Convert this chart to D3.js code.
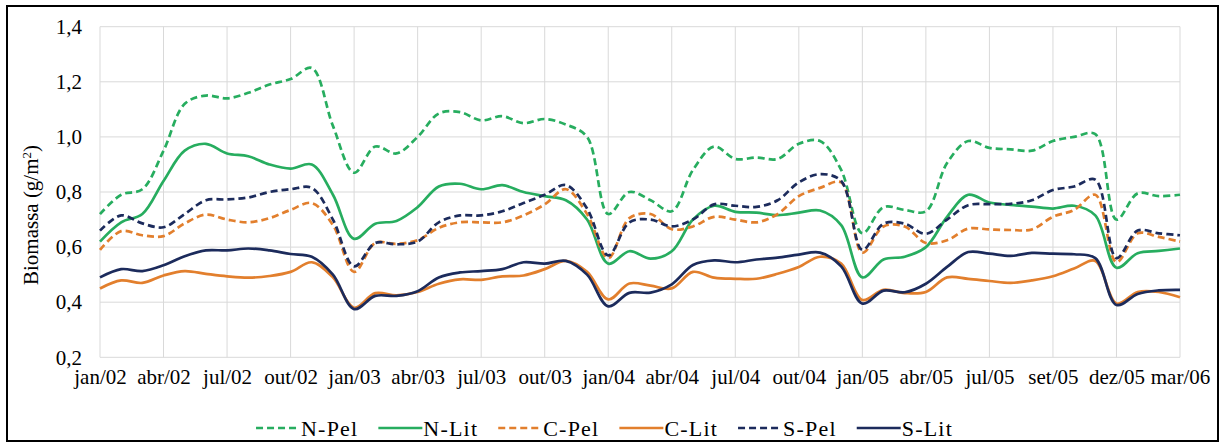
<!DOCTYPE html>
<html>
<head>
<meta charset="utf-8">
<script src="https://cdn.jsdelivr.net/npm/d3@7"></script>
<style>
  body { margin: 0; background: #fff; }
  svg text { font-family: "Liberation Serif", "DejaVu Serif", "Times New Roman", serif; fill: #000; }
</style>
</head>
<body>
<div id="grafico"></div>
<script>
// categorias (uma amostra por mes; ago/05 tem duas coletas)
const meses = [
  'jan/02','fev/02','mar/02','abr/02','mai/02','jun/02','jul/02','ago/02','set/02','out/02','nov/02','dez/02',
  'jan/03','fev/03','mar/03','abr/03','mai/03','jun/03','jul/03','ago/03','set/03','out/03','nov/03','dez/03',
  'jan/04','fev/04','mar/04','abr/04','mai/04','jun/04','jul/04','ago/04','set/04','out/04','nov/04','dez/04',
  'jan/05','fev/05','mar/05','abr/05','mai/05','jun/05','jul/05','ago/05','ago/05','set/05','out/05','nov/05',
  'dez/05','jan/06','fev/06','mar/06'
];

const nPel = [0.72,0.79,0.81,0.95,1.12,1.15,1.14,1.16,1.19,1.21,1.25,1.04,
  0.87,0.965,0.94,1.00,1.085,1.09,1.06,1.075,1.05,1.065,1.045,1.00,
  0.72,0.80,0.77,0.73,0.88,0.965,0.92,0.925,0.92,0.975,0.985,0.88,
  0.65,0.745,0.735,0.73,0.905,0.985,0.96,0.955,0.95,0.985,1.00,1.01,
  0.70,0.795,0.785,0.79];
const nLit = [0.62,0.69,0.72,0.84,0.95,0.975,0.94,0.93,0.90,0.885,0.90,0.79,
  0.63,0.685,0.695,0.745,0.82,0.83,0.81,0.825,0.80,0.785,0.77,0.70,
  0.54,0.585,0.558,0.585,0.70,0.75,0.728,0.725,0.716,0.725,0.733,0.68,
  0.49,0.555,0.565,0.60,0.71,0.79,0.762,0.753,0.747,0.74,0.75,0.715,
  0.525,0.578,0.586,0.595];
const cPel = [0.59,0.658,0.643,0.64,0.686,0.718,0.70,0.69,0.705,0.735,0.76,0.68,
  0.51,0.615,0.612,0.625,0.67,0.69,0.69,0.69,0.715,0.755,0.81,0.72,
  0.56,0.705,0.72,0.665,0.675,0.71,0.70,0.69,0.72,0.785,0.815,0.835,
  0.58,0.675,0.675,0.615,0.625,0.667,0.664,0.662,0.664,0.71,0.735,0.79,
  0.545,0.65,0.637,0.62];
const cLit = [0.45,0.479,0.47,0.497,0.513,0.503,0.494,0.489,0.495,0.51,0.545,0.49,
  0.38,0.433,0.425,0.437,0.467,0.483,0.481,0.494,0.497,0.52,0.55,0.51,
  0.41,0.468,0.46,0.45,0.51,0.489,0.485,0.485,0.503,0.528,0.565,0.54,
  0.408,0.445,0.433,0.437,0.49,0.485,0.477,0.47,0.479,0.494,0.522,0.55,
  0.395,0.437,0.437,0.418];
const sPel = [0.66,0.715,0.686,0.672,0.72,0.77,0.773,0.78,0.80,0.81,0.815,0.70,
  0.53,0.615,0.61,0.62,0.69,0.715,0.715,0.73,0.76,0.79,0.825,0.74,
  0.57,0.69,0.70,0.675,0.70,0.755,0.75,0.746,0.77,0.835,0.865,0.84,
  0.59,0.685,0.685,0.648,0.70,0.752,0.756,0.757,0.77,0.807,0.82,0.845,
  0.56,0.66,0.65,0.643];
const sLit = [0.49,0.52,0.513,0.534,0.567,0.588,0.588,0.595,0.588,0.575,0.565,0.50,
  0.375,0.423,0.423,0.44,0.49,0.508,0.513,0.52,0.545,0.54,0.55,0.50,
  0.385,0.434,0.435,0.465,0.535,0.552,0.545,0.555,0.562,0.573,0.58,0.53,
  0.395,0.442,0.436,0.467,0.528,0.582,0.576,0.568,0.579,0.576,0.574,0.56,
  0.39,0.43,0.443,0.445];

const ticksY = [0.2, 0.4, 0.6, 0.8, 1.0, 1.2, 1.4];

const verde = '#27ad5f', laranja = '#e27f2d', azul = '#1c2b5c';
const series = [
  { nome: 'N-Pel', valores: nPel, cor: verde, tracejado: true },
  { nome: 'N-Lit', valores: nLit, cor: verde, tracejado: false },
  { nome: 'C-Pel', valores: cPel, cor: laranja, tracejado: true },
  { nome: 'C-Lit', valores: cLit, cor: laranja, tracejado: false },
  { nome: 'S-Pel', valores: sPel, cor: azul, tracejado: true },
  { nome: 'S-Lit', valores: sLit, cor: azul, tracejado: false },
];

const fonte = '"Liberation Serif", "DejaVu Serif", "Times New Roman", serif';
const width = 1222, height = 443;
const margem = { esq: 100, dir: 1180, topo: 26.7, base: 357.3 };

const svg = d3.select('#grafico')
  .append('svg')
  .attr('width', width)
  .attr('height', height)
  .attr('font-family', fonte);

// moldura
svg.append('rect')
  .attr('x', 7).attr('y', 6)
  .attr('width', 1211).attr('height', 435)
  .attr('fill', 'none')
  .attr('stroke', '#000')
  .attr('stroke-width', 2);

const x = d3.scaleLinear().domain([0, meses.length - 1]).range([margem.esq, margem.dir]);
const y = d3.scaleLinear().domain([0.2, 1.4]).range([margem.base, margem.topo]);

const indicesX = d3.range(0, meses.length, 3);

// grades
svg.append('g')
  .selectAll('line')
  .data(ticksY)
  .enter()
  .append('line')
  .attr('x1', margem.esq).attr('x2', margem.dir)
  .attr('y1', d => y(d)).attr('y2', d => y(d))
  .attr('stroke', '#d9d9d9')
  .attr('stroke-width', 1);

svg.append('g')
  .selectAll('line')
  .data(indicesX)
  .enter()
  .append('line')
  .attr('x1', d => x(d)).attr('x2', d => x(d))
  .attr('y1', margem.topo).attr('y2', margem.base)
  .attr('stroke', '#d9d9d9')
  .attr('stroke-width', 1);

// eixo Y
const fmt = d => d3.format('.1f')(d).replace('.', ',');
const eixoY = svg.append('g')
  .attr('transform', `translate(${margem.esq},0)`)
  .call(d3.axisLeft(y).tickValues(ticksY).tickFormat(fmt).tickSize(0).tickPadding(18));
eixoY.attr('font-family', fonte).attr('font-size', 21);
eixoY.select('.domain').remove();
eixoY.selectAll('text').attr('fill', '#000');

// eixo X
const eixoX = svg.append('g')
  .attr('transform', `translate(0,${margem.base})`)
  .call(d3.axisBottom(x).tickValues(indicesX).tickFormat(i => meses[i]).tickSize(0).tickPadding(12));
eixoX.attr('font-family', fonte).attr('font-size', 21);
eixoX.select('.domain').remove();
eixoX.selectAll('text').attr('fill', '#000');

// titulo do eixo Y
const titulo = svg.append('text')
  .attr('transform', 'translate(38,215) rotate(-90)')
  .attr('text-anchor', 'middle')
  .attr('font-size', 21);
titulo.append('tspan').text('Biomassa (g/m');
titulo.append('tspan').attr('dy', -7).attr('font-size', 13).text('2');
titulo.append('tspan').attr('dy', 7).text(')');

// linhas
const linha = d3.line()
  .x((d, i) => x(i))
  .y(d => y(d))
  .curve(d3.curveCatmullRom.alpha(0.5));

svg.append('g')
  .selectAll('path')
  .data(series)
  .enter()
  .append('path')
  .attr('d', d => linha(d.valores))
  .attr('fill', 'none')
  .attr('stroke', d => d.cor)
  .attr('stroke-width', 2.7)
  .attr('stroke-dasharray', d => d.tracejado ? '7,4' : null)
  .attr('stroke-linejoin', 'round');

// legenda
const legenda = svg.append('g');
let posX = 0;
series.forEach(s => {
  const item = legenda.append('g').attr('transform', `translate(${posX},0)`);
  item.append('line')
    .attr('x1', 0).attr('x2', 44)
    .attr('y1', 0).attr('y2', 0)
    .attr('stroke', s.cor)
    .attr('stroke-width', 2.7)
    .attr('stroke-dasharray', s.tracejado ? '7,4' : null);
  const t = item.append('text')
    .attr('x', 45).attr('y', 7.5)
    .attr('font-size', 22)
    .attr('letter-spacing', 1.2)
    .text(s.nome);
  posX += 45 + t.node().getComputedTextLength() + 20;
});
const largura = posX - 20;
legenda.attr('transform', `translate(${604.5 - largura / 2},428)`);
</script>
</body>
</html>
